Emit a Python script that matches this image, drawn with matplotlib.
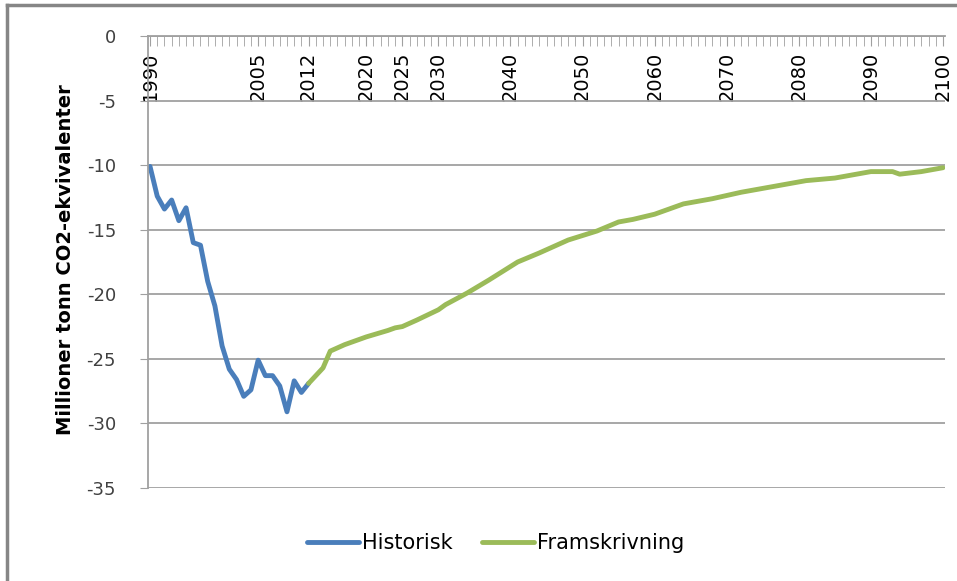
import numpy as np
import matplotlib
matplotlib.use('Agg')
import matplotlib.pyplot as plt
from matplotlib.lines import Line2D
from matplotlib.ticker import FixedLocator, MultipleLocator

# historical series, one value per year 1990-2012
hist_years = list(range(1990, 2013))
hist_vals = [-10.1, -12.4, -13.4, -12.7, -14.3, -13.3, -16.0, -16.2, -19.0, -20.9,
             -24.0, -25.8, -26.6, -27.9, -27.4, -25.1, -26.3, -26.3, -27.1, -29.1,
             -26.7, -27.6, -26.9]

proj_years = [2012, 2013, 2014, 2015, 2017, 2020, 2023, 2024, 2025, 2027, 2030, 2031,
              2034, 2037, 2039, 2041, 2044, 2048, 2052, 2055, 2057, 2060, 2062, 2064,
              2065, 2068, 2072, 2077, 2080, 2081, 2083, 2085, 2088, 2090, 2092, 2093,
              2094, 2097, 2100]
proj_vals = [-26.9, -26.3, -25.7, -24.4, -23.9, -23.3, -22.8, -22.6, -22.5, -22.0, -21.2, -20.8,
             -19.9, -18.9, -18.2, -17.5, -16.8, -15.8, -15.1, -14.4, -14.2, -13.8, -13.4, -13.0,
             -12.9, -12.6, -12.1, -11.6, -11.3, -11.2, -11.1, -11.0, -10.7, -10.5, -10.5, -10.5,
             -10.7, -10.5, -10.2]

label_years = [1990, 2005, 2012, 2020, 2025, 2030, 2040, 2050, 2060, 2070, 2080, 2090, 2100]
y_ticks = [0, -5, -10, -15, -20, -25, -30, -35]

fig = plt.figure(figsize=(9.57, 5.81), dpi=100)
ax = fig.add_axes([148/957, 1 - 488/581, (945 - 148)/957, (488 - 36)/581])

ax.plot(hist_years, hist_vals, color='#4A7EBB', lw=3.5, label='Historisk', solid_capstyle='round')
ax.plot(proj_years, proj_vals, color='#9BBB59', lw=3.5, label='Framskrivning', solid_capstyle='round')

ax.set_xlim(1989.72, 2100.28)
ax.set_ylim(-35, 0)

grid_c = '#a0a0a0'
ax.spines['top'].set_visible(False)
ax.spines['right'].set_visible(False)
ax.spines['bottom'].set_position(('data', 0))
for s in ['bottom', 'left']:
    ax.spines[s].set_color(grid_c)
    ax.spines[s].set_linewidth(1.3)

ax.xaxis.set_major_locator(FixedLocator(label_years))
ax.xaxis.set_minor_locator(MultipleLocator(1))
ax.set_xticklabels([str(y) for y in label_years], rotation=90, fontsize=14)
ax.tick_params(axis='x', which='both', direction='out', length=7.5, color=grid_c, pad=3.5)

ax.set_yticks(y_ticks)
ax.set_yticklabels([str(v) for v in y_ticks], fontsize=13, color='#404040')
ax.tick_params(axis='y', direction='out', length=6, color=grid_c, pad=17)
ax.yaxis.grid(True, color=grid_c, lw=1.3)
ax.set_axisbelow(True)

fig.text(66/957, 1 - 260/581, 'Millioner tonn CO2-ekvivalenter', fontsize=14, fontweight='bold',
         rotation=90, ha='center', va='center')

fig.legend(loc='center', bbox_to_anchor=(496/957, 1 - 543/581), ncol=2, frameon=False,
           fontsize=15, handlelength=2.5, handletextpad=0.15, columnspacing=1.4)

# outer chart frame (top and left edges only visible)
fig.add_artist(Line2D([6.5/957, 1], [1 - 5/581, 1 - 5/581], color='#868686', lw=2.5))
fig.add_artist(Line2D([6.5/957, 6.5/957], [0, 1 - 5/581], color='#868686', lw=2.5))

fig.savefig('out.png', dpi=100)
